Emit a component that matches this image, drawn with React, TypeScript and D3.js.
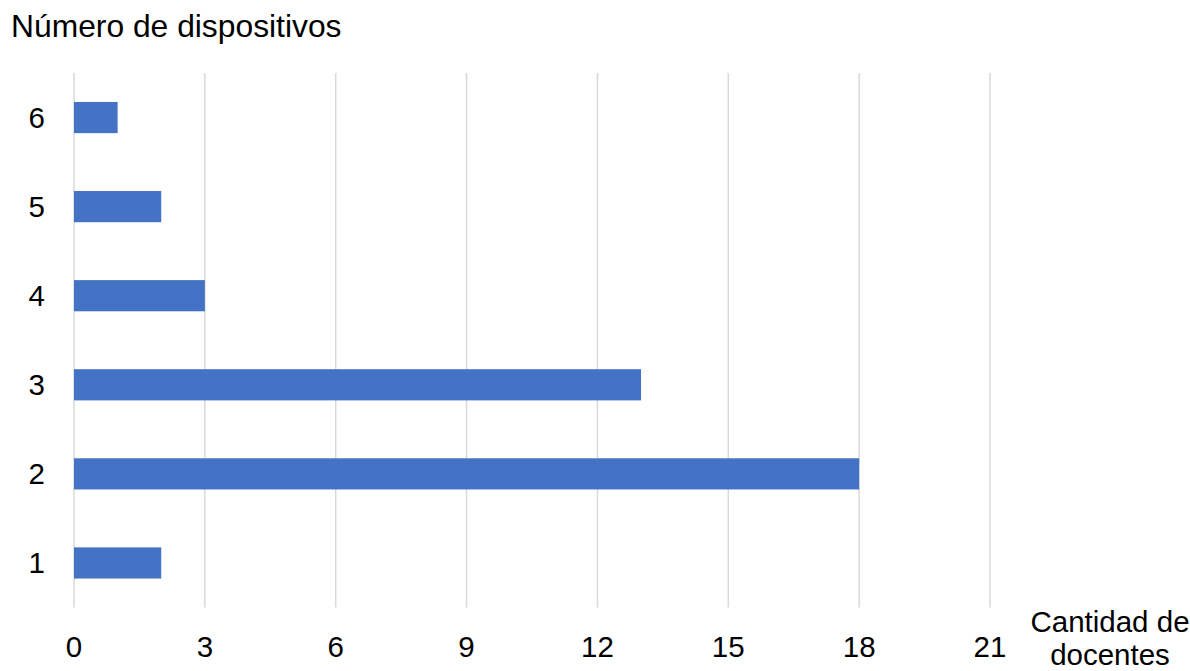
import React from "react";
import * as d3 from "d3";

const categories = ["1", "2", "3", "4", "5", "6"];
const values = [2, 18, 13, 3, 2, 1];
const xTicks = [0, 3, 6, 9, 12, 15, 18, 21];

const W = 1190;
const H = 671;
const left = 74;
const right = 990;
const top = 73;
const bottom = 607.5;
const font = "Liberation Sans, Arial, sans-serif";
const labelSize = 29.5;

export default function App() {
  const x = d3.scaleLinear().domain([0, 21]).range([left, right]);
  const y = d3
    .scaleBand<string>()
    .domain(categories.slice().reverse())
    .range([top, bottom])
    .paddingInner(0.65)
    .paddingOuter(0.325);

  return (
    <svg
      width={W}
      height={H}
      style={{ position: "absolute", left: 0, top: 0, background: "#fff" }}
      fontFamily={font}
    >
      <text x={11} y={37} fontSize={31.8} fill="#000">
        Número de dispositivos
      </text>
      {xTicks.map((t) => (
        <g key={t}>
          <line
            x1={x(t)}
            x2={x(t)}
            y1={top}
            y2={bottom}
            stroke="#d9d9d9"
            strokeWidth={1.5}
          />
          <text
            x={x(t)}
            y={657}
            textAnchor="middle"
            fontSize={labelSize}
            fill="#000"
          >
            {t}
          </text>
        </g>
      ))}
      {categories.map((c, i) => (
        <g key={c}>
          <rect
            x={x(0)}
            y={y(c)}
            width={x(values[i]) - x(0)}
            height={y.bandwidth()}
            fill="#4472c4"
          />
          <text
            x={45}
            y={(y(c) as number) + y.bandwidth() / 2 + 10.5}
            textAnchor="end"
            fontSize={labelSize}
            fill="#000"
          >
            {c}
          </text>
        </g>
      ))}
      <text x={1110} y={632} textAnchor="middle" fontSize={labelSize} fill="#000">
        Cantidad de
      </text>
      <text x={1110} y={665} textAnchor="middle" fontSize={labelSize} fill="#000">
        docentes
      </text>
    </svg>
  );
}
